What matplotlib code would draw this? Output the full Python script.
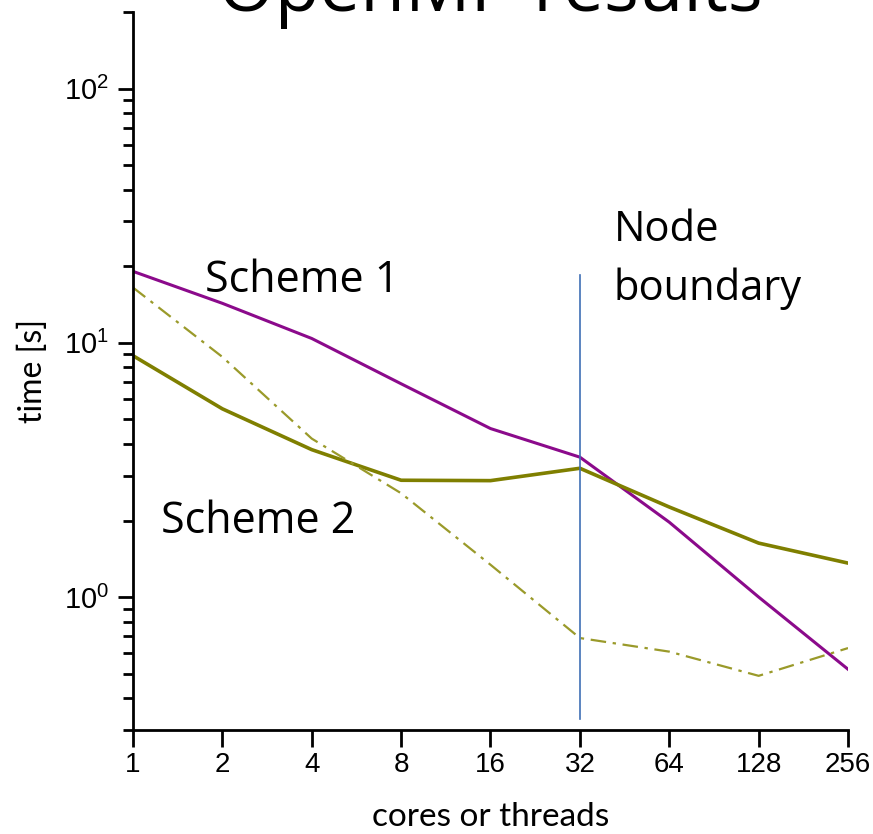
import numpy as np
import matplotlib
matplotlib.use("Agg")
from matplotlib import pyplot as plt
from matplotlib.ticker import FixedLocator, NullFormatter, LogLocator

plt.rcParams['mathtext.fontset'] = 'custom'
plt.rcParams['mathtext.rm'] = 'Liberation Sans'
plt.rcParams['mathtext.it'] = 'Liberation Sans'

# thread counts and run times [s]
cores = [1, 2, 4, 8, 16, 32, 64, 128, 256]
scheme1 = [19.1, 14.3, 10.4, 6.9, 4.6, 3.55, 1.97, 1.0, 0.52]
scheme2 = [8.9, 5.5, 3.8, 2.88, 2.87, 3.21, 2.26, 1.63, 1.36]
scheme2_alt = [16.5, 8.8, 4.2, 2.56, 1.34, 0.69, 0.61, 0.49, 0.63]
node_boundary = 32

fig = plt.figure(figsize=(8.73, 8.34), dpi=100)
ax = fig.add_axes([0.1523, 0.1247, 0.8191, 0.8609])

ax.plot(cores, scheme1, color='#8b0a8b', linewidth=2.2)
ax.plot(cores, scheme2, color='#7f7f00', linewidth=2.6)
ax.plot(cores, scheme2_alt, color='#9a9a2a', linewidth=1.6,
        dashes=(7, 3, 1.5, 3))
ax.plot([node_boundary, node_boundary], [0.33, 18.5], color='#3f6fb5',
        linewidth=1.2)

ax.set_xscale('log', base=2)
ax.set_yscale('log')
ax.set_xlim(1, 256)
ax.set_ylim(0.3, 200)

ax.xaxis.set_major_locator(FixedLocator(cores))
ax.set_xticklabels([str(c) for c in cores])
ax.xaxis.set_minor_locator(FixedLocator([]))
ax.yaxis.set_major_locator(FixedLocator([1, 10, 100]))
ax.set_yticklabels([r'$10^0$', r'$10^1$', r'$10^2$'])
ax.yaxis.set_minor_locator(LogLocator(base=10, subs=np.arange(2, 10)))
ax.yaxis.set_minor_formatter(NullFormatter())

for side in ['top', 'right']:
    ax.spines[side].set_visible(False)
for side in ['left', 'bottom']:
    ax.spines[side].set_linewidth(2)
ax.tick_params(axis='x', which='major', length=12, width=2, pad=4,
               labelsize=20, labelfontfamily='Liberation Sans')
ax.tick_params(axis='y', which='major', length=11, width=2, pad=6,
               labelsize=21)
ax.tick_params(axis='y', which='minor', length=7, width=2)

ax.set_xlabel('cores or threads', fontsize=24, family='Lato', labelpad=17)
ax.set_ylabel('time [s]', fontsize=23, family='Lato', labelpad=12)

ax.text(1.75, 17.6, 'Scheme 1', fontsize=31, family='Open Sans',
        va='center')
ax.text(1.24, 1.98, 'Scheme 2', fontsize=31, family='Open Sans',
        va='center')
ax.text(41.5, 21.3, 'Node\nboundary', fontsize=30, family='Open Sans',
        va='center', linespacing=1.5)

fig.text(490 / 873, 1 - 11 / 834, 'OpenMP results', fontsize=52.5,
         family='Open Sans', ha='center', va='baseline')

fig.savefig('out.png', dpi=100)
